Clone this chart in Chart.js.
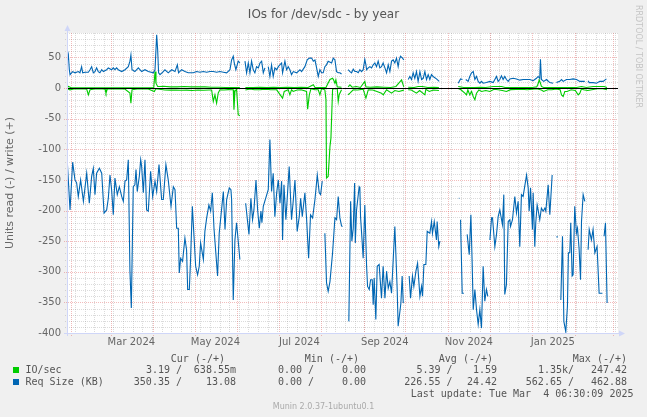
<!DOCTYPE html>
<html>
<head>
<meta charset="utf-8">
<script src="https://cdn.jsdelivr.net/npm/chart.js@4.4.1/dist/chart.umd.min.js"></script>
<style>
body { margin: 0; background: #f0f0f0; }
#wrap { position: relative; width: 647px; height: 417px; overflow: hidden; font-family: "DejaVu Sans", sans-serif; }
#wrap canvas { position: absolute; left: 0; top: 0; }
.t { position: absolute; white-space: pre; line-height: 12px; }
.mono { font-family: "DejaVu Sans Mono", monospace; font-size: 10px; color: #555; }
</style>
</head>
<body>
<div id="wrap"><canvas id="graph" width="647" height="417"></canvas></div>
<script>
// days counted from the left edge of the graph (Jan 29 2024 06:30), null = no data
const reqReadDays = [0,2.2,4.1,5.8,7,8.2,9.9,11.9,14.3,16.2,17.9,19.1,20.3,21.5,23.5,25.2,26.9,28.8,30,31.2,32.4,33.6,34.8,36.5,38,39.7,40.9,42.1,43.3,44.5,45.7,46.7,48.1,49.3,50.1,51,52.5,53.5,54.2,55.4,56.6,57.8,59,60.7,62.2,63.9,65.1,66.8,68.7,69.9,71.8,73.5,75.5,77.2,78.4,79.6,80.8,81.5,82.5,83.9,85.6,86.8,87.6,88.8,89.7,91,92.2,93.4,94.8,96,97,99,100.1,101.4,103,104.3,105.5,106.7,109.3,110.5,113.5,114.7,115.9,117.8,119,119.5,120.7,121.9,123.1,125.5,127,129.7,131.1,132.1,133.5,134.7,135.7,137.2,138.4,139.6,140.8,141.5,142.5,146.1,147.3,148.5,149.7,150.9,152.2,153.4,154.6,155.8,156.5,157.5,158.9,161.3,163,164.2,165.5,167.1,168.6,169.6,170.8,172.7,173.9,175.4,176.8,178.3,180,181.7,183.1,184.1,185.3,186.2,187.2,188.4,189.6,190.9,192.8,194.5,195.7,196.9,198.1,199.3,200,202,204.6,205.9,206.8,207.8,208.8,209.3,210.2,212.1,212.6,213.1,213.8,215,216.2,217.5,218.2,219.4,220.4,221.6,222.3,223,224.2,225.2,226.6,228.3,229.5,230.8,232,233.2,234.4,235.6,238,239.7,240.4,242.4,243.3,244.1,246,248.4,249.4,250.8,251.8,253.3,254.5,256.2,257.4,258.1,259.1,260.5,261.5,263.4,264.6,265.3,266.6,268.2,268.7,269.9,270.7,272,284.4,284.9,285.2,285.7,286.9,288.1,289,290.5,292,293.2,294.1,294.9,296.1,297.3,298.5,299.7,300.9,302.1,303.3,304.5,305.5,306.2,307,308.2,308.9,310.6,311.8,313,314.2,316.1,317.1,317.8,319,320.3,321.5,322,323.4,325.1,326.3,327.5,328.7,329.9,331.1,333.6,334.8,335.5,336.5,337.9,338.4,339.6,340.3,341.3,342,343.2,344.4,345.7,346.9,347.6,349.3,350.5,352.2,353.5,355.3,356.3,357,358.5,359.7,360.7,362.1,363.3,364,365,365.7,366.7,367.4,368.6,369.8,370.6,371.8,372.8,373.5,374.7,375.9,377,378.3,379.1,380.7,381.9,383.2,384.8,386.3,388.7,389.3,389.9,390.9,392.1];
const reqReadVals = [-112,-199,-121,-150,-155,-177,-150,-185,-139,-188,-144,-131,-174,-139,-131,-139,-204,-199,-180,-142,-166,-207,-147,-174,-161,-177,-185,-152,-150,-117,-299,-359,-161,-158,-133,-169,-144,-117,-128,-171,-117,-199,-201,-136,-177,-152,-169,-125,-182,-182,-125,-150,-193,-161,-166,-229,-229,-302,-278,-283,-245,-264,-329,-329,-280,-193,-242,-291,-305,-291,-253,-280,-234,-212,-191,-201,-171,-229,-307,-237,-169,-231,-182,-163,-166,-182,-346,-248,-220,-280,null,-188,-218,-239,-180,-215,-199,-150,-199,-229,-201,-220,-193,-166,-84,-169,-139,-210,-171,-150,-188,-152,-248,-158,-215,-128,-215,-185,-150,-234,-210,-180,-210,-171,-212,-278,-207,-212,-182,-142,-171,-174,-152,null,-237,-318,-332,-316,-269,-212,-215,-177,-212,-225,-226,null,-381,-185,-250,-229,-155,-253,-199,-161,-163,-210,-234,-278,-191,-291,-324,-329,-313,-313,-354,-310,-378,-291,-288,-343,-291,-343,-299,-327,-316,-335,-226,-329,-389,-351,-307,-351,null,-307,-343,-307,-324,-299,-286,-340,-324,-340,-288,-288,-234,-237,-218,-237,-218,-248,-218,-259,-250,null,-180,-180,null,-215,-335,-335,null,-239,-272,-207,-283,-362,-329,-362,-386,-362,-392,-291,-348,-329,-340,null,-248,-212,-212,-259,-239,-210,-199,-223,-174,-337,-321,-218,-215,-226,-215,-177,-204,-185,-259,-174,-177,-142,-163,-201,-163,-231,-171,-259,-220,-191,-199,-215,-196,-201,-196,-201,-158,-207,-142,null,-243,-243,null,-346,-242,-381,-398,-356,-269,-269,-220,-307,-305,-193,-237,-229,-264,-313,-218,-174,-185,null,-264,-231,-248,-231,-269,-259,-335,-335,null,-242,-220,-351];

const reqWriteDays = [0,1,1.7,2.2,4.1,5.8,8.2,9.4,10.6,11.4,13.1,15.5,16.7,17.9,19.1,20.3,21.5,22.7,23.9,25.2,26.4,28.8,30,32.4,33.6,34.8,36,37.2,39.7,42.1,44.5,45.7,46.4,47.2,49.3,51.8,54.2,56.6,59,62.7,63.9,65.1,65.8,66.5,67.5,69.9,71.1,73.5,76,78.4,80.1,81,83.2,85.6,88,91.7,94.1,96.5,98.9,101.4,103.8,106.2,108.6,111,113.5,115.9,118.3,119.5,120.7,121.4,122.6,124.3,125.5,127,129.2,130.4,131.6,132.8,134,135.2,136.4,137.6,138.9,140.1,141.3,142.5,143.7,145,146.1,147.3,148.5,149.7,150.9,152.2,153.4,155.8,156.5,158.2,159.4,160.6,161.8,163,164.3,166.7,169.1,170.3,172.7,174.4,175.9,177.6,178.8,180,181.2,182.4,183.6,184.8,186,187.2,188.4,189.6,192.1,193.3,194.5,195.7,196.9,198.1,199.3,200,204.1,205.4,206.6,207.8,209,210.2,211.4,212.6,213.8,215,216.2,217,217.5,218.7,219.9,221.1,222.3,223.5,224.7,225.9,227.1,228.3,229.5,230.8,232,233.2,234.4,235.6,236.8,238,239.2,240.4,241.2,242.1,243.6,244.5,246,247.7,248.9,250.1,251.3,252.5,253.7,254.9,256.2,257.4,258.6,259.8,261,262.2,263.4,264.6,265.8,268.2,270.2,272,284,285.7,287.1,288,289.5,291.2,292.4,293.7,294.9,296.1,297.3,298.5,299.7,300.9,302.1,304.5,307,309.4,310.6,311.8,313,314.2,315.4,316.6,317.8,319,320.3,321.5,323.9,326.3,328.7,331.1,333.6,336,338.4,340.8,342,343.2,343.7,344.4,346.1,348.1,350.5,352.9,353.8,355.3,357.7,359,360.2,362.6,365,367.4,369.9,372.3,375.9,377,378.3,379.1,382,384.4,386.8,389.2,391.6];
const reqWriteVals = [41,54,30,22,27,25,27,25,35,25,26,26,30,35,25,27,33,27,25,30,27,30,33,30,33,30,33,30,27,30,35,44,54,30,27,33,27,30,27,25,30,87,63,25,22,27,30,25,30,27,38,25,30,27,25,25,27,26,27,26,27,27,26,27,26,25,30,46,52,41,30,44,41,null,44,25,41,25,44,30,25,35,33,41,44,25,33,null,35,19,38,19,33,30,35,41,25,44,30,35,30,22,27,25,30,27,35,46,49,49,44,46,33,19,30,25,25,35,38,44,41,49,46,27,25,25,23,null,30,27,25,31,27,27,25,30,27,30,47,38,30,33,35,33,38,41,35,44,33,35,41,33,25,38,27,44,46,41,49,35,46,52,49,46,null,14,19,14,25,16,27,11,27,14,16,27,14,22,14,22,19,15,11,null,8,15,14,null,14,11,19,25,27,14,19,11,8,11,8,9,11,9,14,19,11,14,20,14,19,14,11,15,16,15,13,14,14,14,12,16,19,16,47,14,11,14,9,8,null,9,11,14,11,14,14,15,14,11,11,null,12,9,9,8,11,11,15];

const ioReadDays = [0,2.2,5,9,14.3,15.5,16.7,20,24,27.6,28.3,29.3,33,38,42,45.7,46.4,47.2,51,55,59,63.4,64.5,67,71,75,79,83,87,91,95,99,103,105,106.2,107.4,108.6,109.8,111,114,117,120.7,121.2,121.9,123.1,124.3,125.5,127,129.5,133,136,140,144,148,152.2,156.5,157.7,160.6,161.8,163,164.2,167,170,173.9,174.7,175.9,177.1,180,182.4,183.6,184.8,187.2,188,188.4,189.6,190.9,191.6,192.8,194,196.2,196.9,197.6,199.3,201,204.1,205.4,207.8,211,215,217,218.7,222,225,228.3,229.6,232,235.6,238,241,244.5,246,247.7,250,253.7,256,259.8,260.5,263,266,270,277,284,286,288.8,290,291,292.4,293.7,294.9,296.1,297.3,299,301,304,307,310,313,316,319,322,326,330,334,338,341,344.4,346,349,352,355,358,359,360.2,361.4,363,366,369,371.1,372.3,373.5,375,378,381,385,389,392];
const ioReadVals = [-1,-2.8,-1.5,-1,-1.5,-11,-2.8,-1.5,-1,-1.7,-8.2,-1,-1.5,-1.2,-1.5,-8.2,-24.5,-2.8,-1.5,-1.5,-1.5,-5.5,-1,-2,-3,-3.3,-3,-3.5,-3.3,-3.8,-3,-3.5,-3,-3,-21.8,-10.9,-24.5,-8,-2.8,-3,-2.5,-2.8,-35.4,-5.5,-1.7,-43.6,-45.2,null,-3,-1.5,-2.8,-2.8,-1.7,-2.8,-2.8,-16.4,-5.5,-2.8,-11,-2.8,-5.5,-3,-2.8,-5.5,-34.3,-11,-1,-2.8,-2.8,-11,-1,-2.8,-19.1,-146.9,-144.2,-95.2,-81.7,-2,-1,-1,-21.8,-10.9,-2.8,null,-10.9,-8.2,-2.8,-3,-1.7,-16.3,-2.8,-3,-5.5,-8.2,-11,-2.8,-8.2,-4,-5.5,-3.3,null,-2.7,-3,-8.2,-4,-11,-2,-5.5,-3,-4,null,-0.5,-2.7,-8.2,-11,-2.7,-11,-5.5,-13.6,-19,-8.2,-3,-5.5,-4,-5.5,-2,-2.7,-3.8,-5.5,-2.5,-2,-2,-2.7,-2,-1,-3,-5.5,-2.7,-2.7,-1.5,-2.7,-11,-13.6,-5.5,-5.5,-2.7,-4,-11,-8.2,-1,-2.7,-4,-2.7,-1,-1,-2.7];

const ioWriteDays = [0,1,3,10,20,30,40,50,60,63,63.9,64.6,65.8,67.5,70,75,80,85,90,95,100,105,110,115,120,125.5,127,129.5,135,140,145,150,155,160,165,170,175,178.8,180,185,188,189.5,190.9,192.8,193.5,194.5,195.2,196.2,199.3,201,204.1,205.4,207,210,213,216.2,217,220,225,230,235,238.8,242.9,243.6,244.5,246,247.7,252,255,258,262,266,270,277,284,288,292,296,300,304,309.4,312,315.5,318,322,326,330,334,338,341,342,342.8,343.7,344.4,346,350,354,358,362,366,370,373.5,377,382,386,390,392];
const ioWriteVals = [1,2.7,0.5,0.5,0.5,0.5,0.5,0.5,0.5,1,27,8,2.7,2.7,3,2,2,2.5,2,2,2,1.5,1.5,1,1,1,null,1,1,1.5,1,1.5,1,1.5,1,1.5,1,5.4,1,1,1,8,14,16,13.5,8,13.5,2,1.5,null,2,5.4,1.5,2.7,1,10.9,2,1.5,2,1.5,1,2.7,13.6,8.2,2,null,1.5,1,2.7,2.7,1,1.5,1,null,2.7,1,1,1,1.5,1,2.7,2.7,2.7,1,1,1,1,1,1,2,7,13.6,8,2.7,1,1,1,1,1,1,1,2.7,1,2.7,2.7,2.7,1];

const xLabels = ['Mar 2024', 'May 2024', 'Jul 2024', 'Sep 2024', 'Nov 2024', 'Jan 2025'];
const xLabelDays = [46.73, 107.73, 168.73, 230.73, 291.73, 352.73];
const yTicks = [-400, -350, -300, -250, -200, -150, -100, -50, 0, 50];

const legendHead = ['Cur (-/+)', 'Min (-/+)', 'Avg (-/+)', 'Max (-/+)'];
const ioStats = ['3.19 /', '638.55m', '0.00 /', '0.00', '5.39 /', '1.59', '1.35k/', '247.42'];
const reqStats = ['350.35 /', '13.08', '0.00 /', '0.00', '226.55 /', '24.42', '562.65 /', '462.88'];

// grid: month starts (major) and sundays (minor), in days from the graph start
const startMs = Date.UTC(2024, 0, 29, 6, 30);
const dayOf = ms => (ms - startMs) / 86400000;
const monthDays = [];
for (let m = 1; m <= 14; m++) monthDays.push(dayOf(Date.UTC(2024, m, 1)));
const weekDays = [];
for (let d = dayOf(Date.UTC(2024, 1, 4)); d < 400; d += 7) weekDays.push(d);

const pts = (days, vals) => days.map((d, i) => ({x: d, y: vals[i]}));

const gridPlugin = {
  id: 'munGrid',
  beforeDatasetsDraw(chart) {
    const {ctx, chartArea: a, scales: {x, y}} = chart;
    ctx.save();
    ctx.fillStyle = '#ffffff';
    ctx.fillRect(a.left, a.top, a.right - a.left, a.bottom - a.top);
    ctx.lineWidth = 1;
    ctx.setLineDash([1, 1]);
    // minor
    ctx.strokeStyle = 'rgba(143,143,143,0.32)';
    for (let v = -400; v <= 90; v += 10) {
      if (v % 50 === 0) continue;
      const py = Math.round(y.getPixelForValue(v)) + 0.5;
      ctx.beginPath(); ctx.moveTo(a.left - 2, py); ctx.lineTo(a.right, py); ctx.stroke();
    }
    weekDays.forEach(d => {
      const px = Math.round(x.getPixelForValue(d)) + 0.5;
      ctx.beginPath(); ctx.moveTo(px, a.top); ctx.lineTo(px, a.bottom + 2); ctx.stroke();
    });
    // major
    ctx.strokeStyle = 'rgba(222,79,79,0.38)';
    yTicks.forEach(v => {
      const py = Math.round(y.getPixelForValue(v)) + 0.5;
      ctx.beginPath(); ctx.moveTo(a.left - 3, py); ctx.lineTo(a.right, py); ctx.stroke();
    });
    monthDays.forEach(d => {
      const px = Math.round(x.getPixelForValue(d)) + 0.5;
      ctx.beginPath(); ctx.moveTo(px, a.top); ctx.lineTo(px, a.bottom + 3); ctx.stroke();
    });
    ctx.restore();
  },
  afterDatasetsDraw(chart) {
    const {ctx, chartArea: a, scales: {y}} = chart;
    ctx.save();
    const zy = Math.round(y.getPixelForValue(0)) + 0.5;
    ctx.strokeStyle = '#000000';
    ctx.lineWidth = 1;
    ctx.beginPath(); ctx.moveTo(a.left, zy); ctx.lineTo(a.right, zy); ctx.stroke();
    // axes and arrows
    ctx.strokeStyle = '#cfd6f8';
    ctx.fillStyle = '#cfd6f8';
    const lx = a.left + 0.5, by = a.bottom + 0.5;
    ctx.beginPath(); ctx.moveTo(lx, a.bottom + 3); ctx.lineTo(lx, a.top - 3); ctx.stroke();
    ctx.beginPath(); ctx.moveTo(a.left - 3, by); ctx.lineTo(a.right + 2, by); ctx.stroke();
    ctx.beginPath(); ctx.moveTo(lx - 3, a.top - 2); ctx.lineTo(lx + 3, a.top - 2); ctx.lineTo(lx, a.top - 8); ctx.closePath(); ctx.fill();
    ctx.beginPath(); ctx.moveTo(a.right + 1, by - 3); ctx.lineTo(a.right + 1, by + 3); ctx.lineTo(a.right + 7, by); ctx.closePath(); ctx.fill();
    ctx.restore();
  }
};

Chart.defaults.font.family = '"DejaVu Sans", sans-serif';

new Chart(document.getElementById('graph'), {
  type: 'line',
  data: {
    datasets: [
      {data: pts(reqReadDays, reqReadVals), borderColor: '#0066b3'},
      {data: pts(reqWriteDays, reqWriteVals), borderColor: '#0066b3'},
      {data: pts(ioReadDays, ioReadVals), borderColor: '#00cc00'},
      {data: pts(ioWriteDays, ioWriteVals), borderColor: '#00cc00'}
    ].map(ds => Object.assign(ds, {borderWidth: 1.1, pointRadius: 0, tension: 0, spanGaps: false, fill: false}))
  },
  options: {
    responsive: false,
    animation: false,
    devicePixelRatio: 1,
    layout: {padding: {left: 0, right: 29, top: 33, bottom: 0}},
    plugins: {legend: {display: false}, tooltip: {enabled: false}},
    scales: {
      x: {
        type: 'linear', min: 0, max: 400,
        grid: {display: false, drawTicks: false},
        border: {display: false},
        afterBuildTicks: s => { s.ticks = xLabelDays.map(v => ({value: v})); },
        afterFit: s => { s.height = 84; },
        ticks: {
          autoSkip: false, maxRotation: 0, padding: 3, color: '#666', font: {size: 10},
          callback: (v, i) => xLabels[i]
        }
      },
      y: {
        min: -400, max: 90,
        grid: {display: false, drawTicks: false},
        border: {display: false},
        afterBuildTicks: s => { s.ticks = yTicks.map(v => ({value: v})); },
        afterFit: s => { s.width = 67; },
        ticks: {padding: 6, color: '#666', font: {size: 10}, callback: v => String(v)},
        title: {display: true, text: 'Units read (-) / write (+)', color: '#666', font: {size: 11}, padding: {top: 4, bottom: 0}}
      }
    }
  },
  plugins: [gridPlugin]
});

// text around the graph
const wrap = document.getElementById('wrap');
function put(text, x, cy, cls, align, style) {
  const el = document.createElement('div');
  el.className = 't ' + (cls || '');
  el.textContent = text;
  if (align === 'right') el.style.right = (647 - x) + 'px';
  else if (align === 'center') { el.style.left = (x - 200) + 'px'; el.style.width = '400px'; el.style.textAlign = 'center'; }
  else el.style.left = x + 'px';
  el.style.top = (cy - 6) + 'px';
  if (style) Object.assign(el.style, style);
  wrap.appendChild(el);
  return el;
}
put('IOs for /dev/sdc - by year', 323.5, 14, '', 'center', {fontSize: '12px', color: '#555'});
put('RRDTOOL / TOBI OETIKER', 634, 11, '', 'left', {fontSize: '8px', color: '#c4c4c4', writingMode: 'vertical-rl', lineHeight: '9px'});
put('Munin 2.0.37-1ubuntu0.1', 323.5, 406.5, '', 'center', {fontSize: '8px', color: '#aaaaaa'});

const headRight = [225, 359, 493, 627];
const statRight = [182, 236, 314, 366, 452.5, 497, 574, 627];
legendHead.forEach((h, i) => put(h, headRight[i], 358.5, 'mono', 'right'));
[[ioStats, '#00cc00', 'IO/sec', 370], [reqStats, '#0066b3', 'Req Size (KB)', 382]].forEach(([stats, col, name, cy]) => {
  const sq = document.createElement('div');
  Object.assign(sq.style, {position: 'absolute', left: '13px', top: (cy - 3) + 'px', width: '6px', height: '6px', background: col});
  wrap.appendChild(sq);
  put(name, 25.5, cy, 'mono', 'left');
  stats.forEach((s, i) => put(s, statRight[i], cy, 'mono', 'right'));
});
put('Last update: Tue Mar  4 06:30:09 2025', 633.5, 394, 'mono', 'right');
</script>
</body>
</html>
